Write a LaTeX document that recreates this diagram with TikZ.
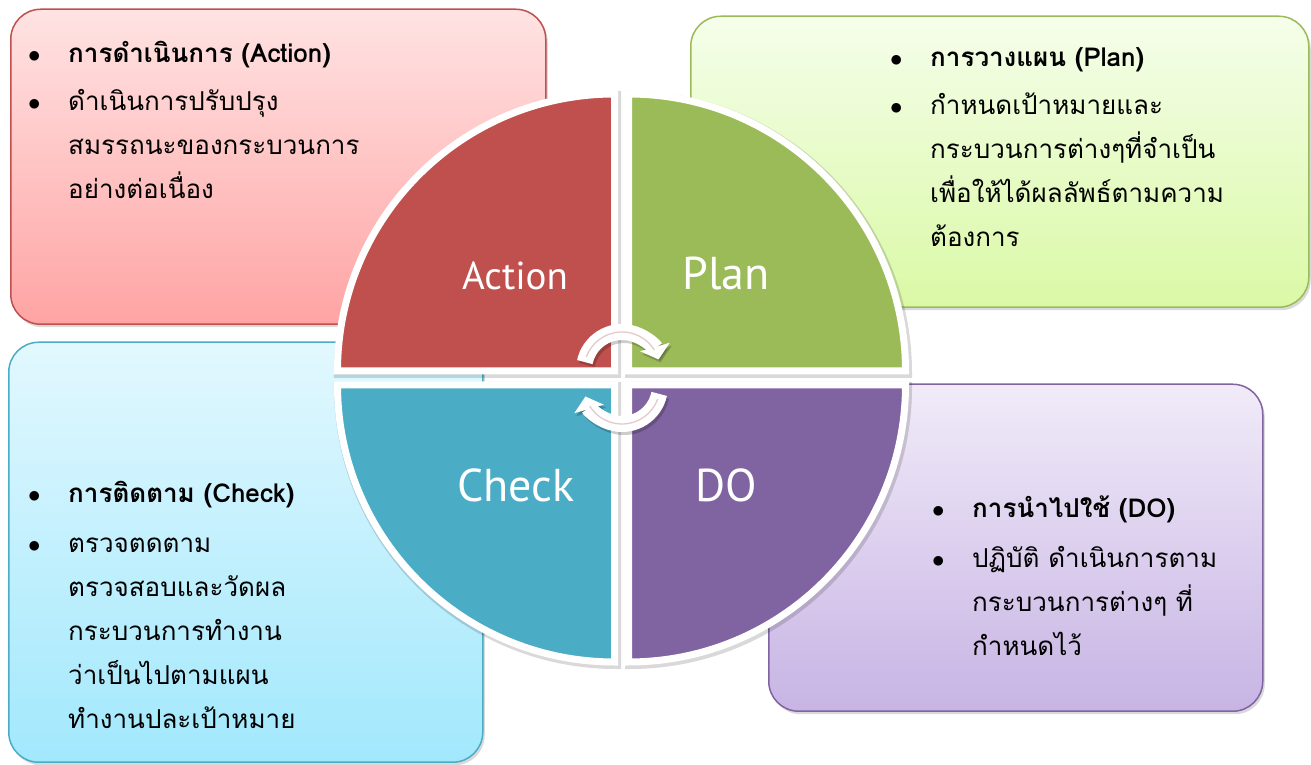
\documentclass[tikz,border=0pt]{standalone}
\usepackage{fontspec}
\setsansfont{PT Sans}
\newfontfamily\thaifont[Script=Thai]{Loma}
\usetikzlibrary{positioning,shadows,arrows.meta}

\definecolor{actred}{HTML}{C0504D}
\definecolor{plangreen}{HTML}{9BBB59}
\definecolor{checkblue}{HTML}{4BACC6}
\definecolor{dopurple}{HTML}{8064A2}
\definecolor{cyclepink}{HTML}{E6CACA}
\definecolor{acttop}{HTML}{FFE3E3}
\definecolor{actbottom}{HTML}{FFA4A4}
\definecolor{plantop}{HTML}{F5FEEA}
\definecolor{planbottom}{HTML}{DAF9A6}
\definecolor{checktop}{HTML}{E2F8FE}
\definecolor{checkbottom}{HTML}{A2E8FD}
\definecolor{dotop}{HTML}{F1EBF8}
\definecolor{dobottom}{HTML}{C7B4E4}

\newcommand{\pdcabul}{$\bullet$}
\newenvironment{pdcalist}{\begin{tabular}{@{}p{40pt}@{}l@{}}}{\end{tabular}}

\begin{document}
\begin{tikzpicture}[
    x=1pt, y=1pt,
    infobox/.style={rectangle, rounded corners=30pt, line width=1.5pt, anchor=south west,
        inner sep=0pt, drop shadow={shadow xshift=2pt, shadow yshift=-3pt, opacity=0.3}},
    infotext/.style={inner sep=0pt, font=\thaifont\fontsize{26}{44}\selectfont},
    quarter/.style={draw=white, line width=7pt},
    qshadow/.style={draw=black, opacity=0.15, line width=10pt, shift={(1.5,-2)}},
    qlabel/.style={text=white, font=\sffamily\fontsize{46}{50}\selectfont},
    cyclearrow/.style={line width=16pt, -{Triangle[length=13pt, width=30pt]}},
    cycleline/.style={cyclepink, line width=1.3pt}
]
    \useasboundingbox (0,0) rectangle (1311,765);

    % the four boxes
    \node[infobox, draw=actred, top color=acttop, bottom color=actbottom,
        minimum width=535pt, minimum height=315pt] (actbox) at (10,440) {};
    \node[infobox, draw=plangreen, top color=plantop, bottom color=planbottom,
        minimum width=618pt, minimum height=291pt] (planbox) at (690,457) {};
    \node[infobox, draw=checkblue, top color=checktop, bottom color=checkbottom,
        minimum width=474pt, minimum height=420pt] (checkbox) at (8,2) {};
    \node[infobox, draw=dopurple, top color=dotop, bottom color=dobottom,
        minimum width=494pt, minimum height=327pt] (dobox) at (768,53) {};

    % texts of the boxes
    \node[infotext, below right=23pt and 18pt of actbox.north west] (acttext) {\begin{pdcalist}
        \pdcabul & \textbf{การดำเนินการ (Action)}\\[4pt]
        \pdcabul & ดำเนินการปรับปรุง\\
        & สมรรถนะของกระบวนการ\\
        & อย่างต่อเนื่อง
    \end{pdcalist}};
    \node[infotext, below right=20pt and 200pt of planbox.north west] (plantext) {\begin{pdcalist}
        \pdcabul & \textbf{การวางแผน (Plan)}\\[4pt]
        \pdcabul & กำหนดเป้าหมายและ\\
        & กระบวนการต่างๆที่จำเป็น\\
        & เพื่อให้ได้ผลลัพธ์ตามความ\\
        & ต้องการ
    \end{pdcalist}};
    \node[infotext, below right=130pt and 20pt of checkbox.north west] (checktext) {\begin{pdcalist}
        \pdcabul & \textbf{การติดตาม (Check)}\\[6pt]
        \pdcabul & ตรวจตดตาม\\
        & ตรวจสอบและวัดผล\\
        & กระบวนการทำงาน\\
        & ว่าเป็นไปตามแผน\\
        & ทำงานปละเป้าหมาย
    \end{pdcalist}};
    \node[infotext, below right=103pt and 164pt of dobox.north west] (dotext) {\begin{pdcalist}
        \pdcabul & \textbf{การนำไปใช้ (DO)}\\[6pt]
        \pdcabul & ปฏิบัติ ดำเนินการตาม\\
        & กระบวนการต่างๆ ที่\\
        & กำหนดไว้
    \end{pdcalist}};

    % circle of four quarters
    \foreach \qx/\qy/\qa in {614.5/394/90, 628.5/394/0, 614.5/380/180, 628.5/380/270}
        \draw[qshadow] (\qx,\qy) -- ++(\qa:277pt) arc[start angle=\qa, delta angle=90, radius=277pt] -- cycle;
    \foreach \qx/\qy/\qa/\qc in {614.5/394/90/actred, 628.5/394/0/plangreen,
                                 614.5/380/180/checkblue, 628.5/380/270/dopurple}
        \draw[quarter, fill=\qc] (\qx,\qy) -- ++(\qa:277pt) arc[start angle=\qa, delta angle=90, radius=277pt] -- cycle;

    \node[qlabel, font=\sffamily\fontsize{39}{44}\selectfont] (actlabel) at (515,489) {Action};
    \node[qlabel] (planlabel) at (726,491) {Plan};
    \node[qlabel] (checklabel) at (516,280) {Check};
    \node[qlabel] (dolabel) at (726,280) {DO};

    % turning arrows in the middle
    \foreach \cy/\sa/\ea in {395/168/16, 379/-12/-164} {
        \draw[cyclearrow, black, opacity=0.2, transform canvas={shift={(2pt,-3pt)}}]
            ([shift={(\sa:38pt)}]622,\cy) arc[start angle=\sa, end angle=\ea, radius=38pt];
        \draw[cyclearrow, white]
            ([shift={(\sa:38pt)}]622,\cy) arc[start angle=\sa, end angle=\ea, radius=38pt];
        \draw[cycleline]
            ([shift={(\sa-8:38pt)}]622,\cy) arc[start angle=\sa-8, end angle=\ea+16, radius=38pt];
    }
\end{tikzpicture}
\end{document}
